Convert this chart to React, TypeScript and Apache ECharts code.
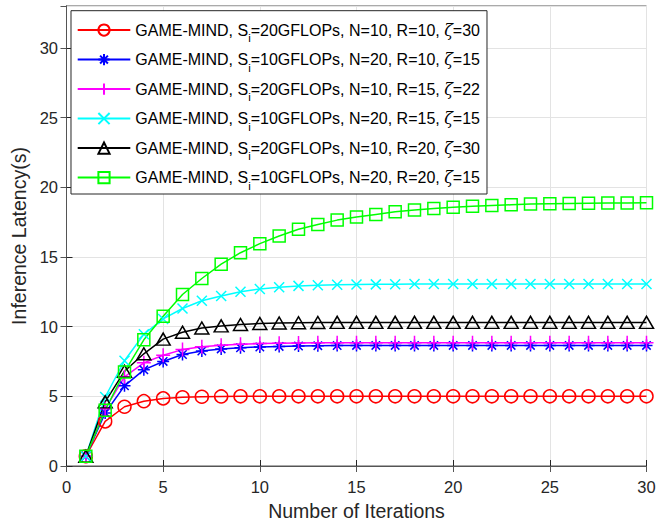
import React, { useEffect, useRef } from "react";
import * as echarts from "echarts";

const iterations = [1,2,3,4,5,6,7,8,9,10,11,12,13,14,15,16,17,18,19,20,21,22,23,24,25,26,27,28,29,30];

const redValues = [0.7,3.2,4.25,4.65,4.85,4.93,4.97,4.99,5.0,5.0,5.0,5.0,5.0,5.0,5.0,5.0,5.0,5.0,5.0,5.0,5.0,5.0,5.0,5.0,5.0,5.0,5.0,5.0,5.0,5.0];
const blueValues = [0.7,3.8,5.75,6.9,7.5,8.0,8.25,8.4,8.48,8.54,8.58,8.61,8.63,8.64,8.65,8.65,8.65,8.65,8.65,8.65,8.65,8.65,8.65,8.65,8.65,8.65,8.65,8.65,8.65,8.65];
const magentaValues = [0.7,4.1,6.4,7.4,7.95,8.35,8.55,8.66,8.73,8.78,8.81,8.83,8.84,8.85,8.85,8.85,8.85,8.85,8.85,8.85,8.85,8.85,8.85,8.85,8.85,8.85,8.85,8.85,8.85,8.85];
const cyanValues = [0.7,4.95,7.55,9.45,10.55,11.3,11.85,12.2,12.5,12.7,12.83,12.92,12.97,13.0,13.02,13.03,13.04,13.05,13.05,13.05,13.05,13.05,13.05,13.05,13.05,13.05,13.05,13.05,13.05,13.05];
const blackValues = [0.7,4.6,6.8,8.05,9.1,9.6,9.9,10.05,10.15,10.22,10.26,10.28,10.29,10.3,10.3,10.3,10.3,10.3,10.3,10.3,10.3,10.3,10.3,10.3,10.3,10.3,10.3,10.3,10.3,10.3];
const greenValues = [0.7,4.0,6.75,9.05,10.75,12.3,13.45,14.48,15.3,15.95,16.5,16.98,17.33,17.64,17.86,18.05,18.24,18.36,18.48,18.57,18.64,18.69,18.74,18.79,18.81,18.83,18.85,18.86,18.87,18.88];

const siValues = ["20", "10", "20", "10", "20", "10"];
const nValues = ["10", "20", "10", "20", "10", "20"];
const rValues = ["10", "10", "15", "15", "20", "20"];
const zetaValues = ["30", "15", "22", "15", "30", "15"];

const xTicks = [0, 5, 10, 15, 20, 25, 30];
const yTicks = [0, 5, 10, 15, 20, 25, 30];

const seriesValues = [redValues, blueValues, magentaValues, cyanValues, blackValues, greenValues];
const colors = ["#ff0000", "#0000ff", "#ff00ff", "#00ffff", "#000000", "#00ff00"];
const symbols = [
  "circle",
  "path://M0,-1L0,1M-1,0L1,0M-0.7,-0.7L0.7,0.7M-0.7,0.7L0.7,-0.7",
  "path://M0,-1L0,1M-1,0L1,0",
  "path://M-1,-1L1,1M-1,1L1,-1",
  "triangle",
  "rect",
];
const symbolSizes = [13, 12, 14, 10, [14, 12], 12];

const names = siValues.map(
  (s, i) => `GAME-MIND, Si=${s}GFLOPs, N=${nValues[i]}, R=${rValues[i]}, ζ=${zetaValues[i]}`
);

export default function App() {
  const ref = useRef<HTMLDivElement>(null);
  useEffect(() => {
    if (!ref.current) return;
    const chart = echarts.init(ref.current, null, { renderer: "svg" });
    const font = "'Liberation Sans', Arial, Helvetica, sans-serif";
    const textColor = "#262626";
    const series: any[] = seriesValues.map((vals, i) => ({
      name: names[i],
      type: "line",
      data: vals.map((v, j) => [iterations[j], v]),
      symbol: symbols[i],
      symbolSize: symbolSizes[i],
      showSymbol: true,
      lineStyle: { color: colors[i], width: 1.5 },
      itemStyle: { color: "rgba(0,0,0,0)", borderColor: colors[i], borderWidth: 1.5 },
      emphasis: { disabled: true },
      xAxisIndex: 0,
      yAxisIndex: 0,
    }));
    chart.setOption({
      animation: false,
      backgroundColor: "#ffffff",
      textStyle: { fontFamily: font },
      grid: {
        left: 66.5,
        right: 12.5,
        top: 6,
        bottom: 61,
        show: true,
        borderColor: "#555555",
        borderWidth: 1,
        backgroundColor: "#ffffff",
      },
      legend: {
        orient: "vertical",
        left: 71,
        top: 10.7,
        itemWidth: 52.6,
        itemHeight: 14,
        itemGap: 7.5,
        padding: [11.35, 7, 2.45, 5.7],
        backgroundColor: "#ffffff",
        borderColor: "#262626",
        borderWidth: 1,
        borderRadius: 0,
        data: names,
        formatter: (name: string) => {
          const i = names.indexOf(name);
          return `{b|GAME-MIND, S}{s|i}{b|=${siValues[i]}GFLOPs, N=${nValues[i]}, R=${rValues[i]}, }{z|ζ}{b|=${zetaValues[i]}}`;
        },
        textStyle: {
          color: "#000000",
          fontFamily: font,
          fontSize: 16,
          rich: {
            b: { fontSize: 16, color: "#000000", fontFamily: font, lineHeight: 28, verticalAlign: "middle" },
            s: { fontSize: 11.5, color: "#000000", fontFamily: font, lineHeight: 10, verticalAlign: "bottom" },
            z: { fontSize: 16, color: "#000000", fontFamily: "'DejaVu Serif', serif", fontStyle: "italic", lineHeight: 28, verticalAlign: "middle" },
          },
        },
      },
      xAxis: [
        {
          type: "value",
          min: 0,
          max: 30,
          interval: 5,
          name: "Number of Iterations",
          nameLocation: "middle",
          nameGap: 35,
          nameTextStyle: { color: textColor, fontSize: 19.5, fontFamily: font },
          axisLine: { show: true, lineStyle: { color: "#262626", width: 1 } },
          axisTick: { show: true, inside: true, length: 6, lineStyle: { color: "#262626" } },
          axisLabel: {
            color: textColor,
            fontSize: 16.5,
            margin: 12,
            fontFamily: font,
            formatter: (v: number) => (xTicks.includes(v) ? String(v) : ""),
          },
          splitLine: { show: true, lineStyle: { color: "#e3e3e3", width: 1 } },
        },
        {
          type: "value",
          position: "top",
          min: 0,
          max: 30,
          interval: 5,
          axisLine: { show: true, lineStyle: { color: "#555555" } },
          axisTick: { show: true, inside: true, length: 6, lineStyle: { color: "#555555" } },
          axisLabel: { show: false },
          splitLine: { show: false },
        },
      ],
      yAxis: [
        {
          type: "value",
          min: 0,
          max: 33,
          interval: 5,
          name: "Inference Latency(s)",
          nameLocation: "middle",
          nameGap: 36,
          nameTextStyle: { color: textColor, fontSize: 19.5, fontFamily: font },
          axisLine: { show: true, lineStyle: { color: "#262626", width: 1 } },
          axisTick: { show: true, inside: true, length: 6, lineStyle: { color: "#262626" } },
          axisLabel: {
            color: textColor,
            fontSize: 16.5,
            margin: 8.5,
            fontFamily: font,
            showMaxLabel: false,
            formatter: (v: number) => (yTicks.includes(v) ? String(v) : ""),
          },
          splitLine: { show: true, lineStyle: { color: "#e3e3e3", width: 1 } },
        },
        {
          type: "value",
          position: "right",
          min: 0,
          max: 33,
          interval: 5,
          axisLine: { show: true, lineStyle: { color: "#555555" } },
          axisTick: { show: true, inside: true, length: 6, lineStyle: { color: "#555555" } },
          axisLabel: { show: false },
          splitLine: { show: false },
        },
      ],
      series,
    });
    return () => chart.dispose();
  }, []);
  return <div ref={ref} style={{ width: 659, height: 527, position: "absolute", left: 0, top: 0 }} />;
}
